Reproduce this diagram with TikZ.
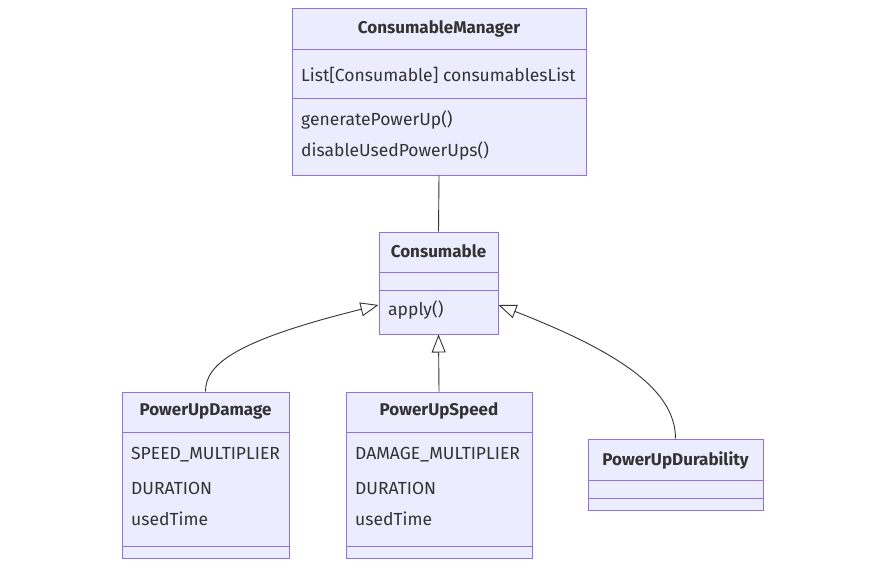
\documentclass[tikz,border=0pt]{standalone}
\usepackage{fontspec}
\setmainfont{Fira Sans}
\usetikzlibrary{arrows.meta}
\definecolor{boxfill}{HTML}{ECECFF}
\definecolor{boxline}{HTML}{9370DB}
\definecolor{ink}{HTML}{333333}
\tikzset{
  cls/.style={draw=boxline, fill=boxfill, line width=1pt, inner sep=0pt},
  title/.style={font=\fontsize{17}{20}\selectfont\bfseries, text=ink, inner sep=0pt},
  member/.style={anchor=west, text=ink, inner sep=0pt},
  sep/.style={draw=boxline, line width=1pt},
  inherit/.style={draw=ink, line width=0.9pt, -{Triangle[open, length=18pt, width=14pt, fill=white]}}
}

\begin{document}
\begin{tikzpicture}[x=1pt, y=-1pt, font=\fontsize{17.5}{20}\selectfont]
\useasboundingbox (0,0) rectangle (885,567);

%boxes
\node[cls, minimum width=294pt, minimum height=166pt] (mgr) at (439,92) {};
\node[cls, minimum width=119pt, minimum height=102pt] (cons) at (438.5,283) {};
\node[cls, minimum width=167pt, minimum height=166pt] (dmg) at (205.5,475) {};
\node[cls, minimum width=186pt, minimum height=166pt] (spd) at (439,475) {};
\node[cls, minimum width=175pt, minimum height=71pt] (dur) at (675.5,474.5) {};

%compartments
\draw[sep] (292,50)--(586,50) (292,99)--(586,99);
\draw[sep] (379,272)--(498,272) (379,290)--(498,290);
\draw[sep] (122,432)--(289,432) (122,546)--(289,546);
\draw[sep] (346,432)--(532,432) (346,546)--(532,546);
\draw[sep] (588,480)--(763,480) (588,498)--(763,498);

%ConsumableManager
\node[title] (mgr-t) at (439,29) {ConsumableManager};
\node[member] (mgr-a) at (301,75) {List[Consumable] consumablesList};
\node[member] (mgr-m1) at (301,120) {generatePowerUp()};
\node[member] (mgr-m2) at (301,151) {disableUsedPowerUps()};

%Consumable
\node[title] (cons-t) at (438.5,251) {Consumable};
\node[member] (cons-m) at (388,310) {apply()};

%PowerUpDamage
\node[title] (dmg-t) at (205.5,411) {PowerUpDamage};
\node[member] (dmg-a1) at (131,455) {SPEED\_MULTIPLIER};
\node[member] (dmg-a2) at (131,488) {DURATION};
\node[member] (dmg-a3) at (131,519) {usedTime};

%PowerUpSpeed
\node[title] (spd-t) at (439,411) {PowerUpSpeed};
\node[member] (spd-a1) at (355,455) {DAMAGE\_MULTIPLIER};
\node[member] (spd-a2) at (355,488) {DURATION};
\node[member] (spd-a3) at (355,519) {usedTime};

%PowerUpDurability
\node[title] (dur-t) at (675.5,460) {PowerUpDurability};

%relations
\draw[draw=ink, line width=0.9pt] (mgr.south) -- (cons.north);
\draw[inherit] (spd.north) -- (cons.south);
\draw[inherit] (dmg.north) .. controls (205.5,365) and (233,341) .. ([yshift=-22pt]cons.west);
\draw[inherit] (dur.north) .. controls (675.5,390) and (619,352) .. ([yshift=-22pt]cons.east);

\end{tikzpicture}
\end{document}
